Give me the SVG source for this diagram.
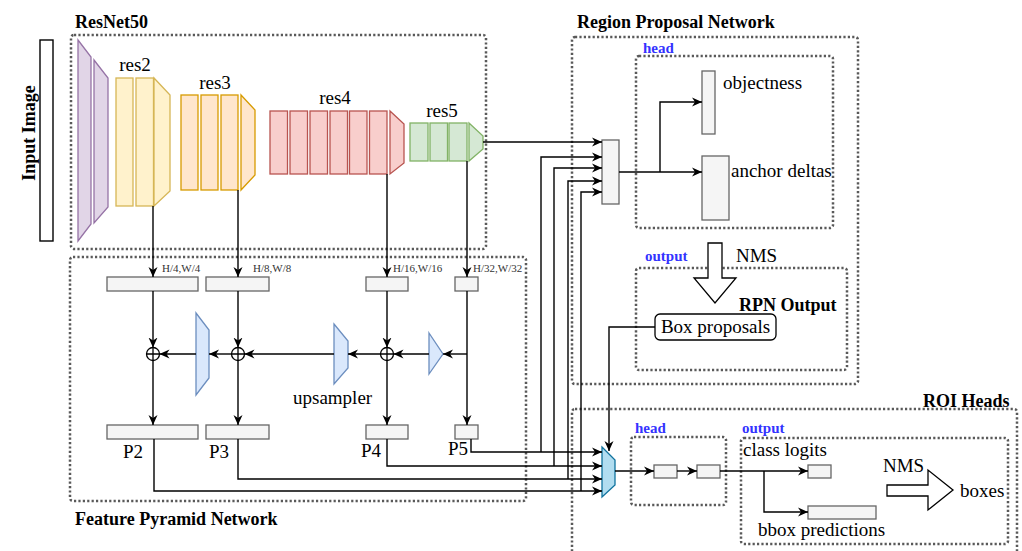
<svg xmlns="http://www.w3.org/2000/svg" width="1022" height="551" viewBox="0 0 1022 551">
<style>
text{font-family:"Liberation Serif","Times New Roman",serif;fill:#000}
.t{font-size:19px}
.b{font-size:18px;font-weight:bold}
.s{font-size:11px;fill:#333}
.blue{font-size:15px;font-weight:bold;fill:#3333ff}
.dot{fill:none;stroke:#595959;stroke-width:2.5;stroke-dasharray:2.2 2.2}
.box{fill:#f5f5f5;stroke:#666;stroke-width:1.3}
.pur{fill:#e1d5e7;stroke:#9673a6;stroke-width:1.3}
.yel{fill:#fff2cc;stroke:#d6b656;stroke-width:1.3}
.ora{fill:#ffe6cc;stroke:#d79b00;stroke-width:1.3}
.red{fill:#f8cecc;stroke:#b85450;stroke-width:1.3}
.grn{fill:#d5e8d4;stroke:#82b366;stroke-width:1.3}
.ups{fill:#dae8fc;stroke:#6c8ebf;stroke-width:1.3}
.c{fill:none;stroke:#000;stroke-width:1.4}
.a{marker-end:url(#arr)}
</style>
<defs>
<marker id="arr" viewBox="0 0 10 10" markerWidth="10" markerHeight="10" refX="10" refY="5" orient="auto" markerUnits="userSpaceOnUse">
<path d="M0,0.5 L10,5 L0,9.5 L3,5 Z" fill="#000"/>
</marker>
</defs>

<!-- containers -->
<g id="resnet50">
<rect class="dot" x="71" y="35" width="415" height="214" rx="3"/>
<text class="b" x="75" y="28">ResNet50</text>
</g>
<g id="fpn">
<rect class="dot" x="70" y="257" width="456" height="244" rx="3"/>
<text class="b" x="75" y="525">Feature Pyramid Network</text>
</g>
<g id="rpn">
<rect class="dot" x="572" y="37" width="286" height="347" rx="3"/>
<text class="b" x="577" y="28">Region Proposal Network</text>
</g>
<g id="rpn-head">
<rect class="dot" x="636" y="56" width="197" height="172" rx="3"/>
<text class="blue" x="643" y="53">head</text>
</g>
<g id="rpn-output">
<rect class="dot" x="636" y="268" width="211" height="102" rx="3"/>
<text class="blue" x="645" y="261">output</text>
<text class="b" x="739" y="311">RPN Output</text>
</g>
<g id="roi">
<rect class="dot" x="572" y="409" width="445" height="160" rx="3"/>
<text class="b" x="923" y="407">ROI Heads</text>
</g>
<g id="roi-head">
<rect class="dot" x="631" y="437" width="95" height="68" rx="3"/>
<text class="blue" x="635" y="433">head</text>
</g>
<g id="roi-output">
<rect class="dot" x="741" y="438" width="267" height="106" rx="3"/>
<text class="blue" x="742" y="433">output</text>
</g>

<!-- input -->
<g id="input-image">
<rect x="40" y="40" width="13" height="201" fill="#fff" stroke="#000" stroke-width="1.4"/>
<text class="b" transform="translate(35,133) rotate(-90)" text-anchor="middle">Input Image</text>
</g>

<!-- stem -->
<g id="stem">
<polygon class="pur" points="78,40 91,57 91,224 78,241"/>
<polygon class="pur" points="94,60 108,78 108,207 94,223"/>
</g>
<g id="res2">
<rect class="yel" x="116" y="78" width="17" height="128"/>
<rect class="yel" x="136" y="78" width="17.5" height="128"/>
<polygon class="yel" points="154,78 170,95 170,191 154,206"/>
<text class="t" x="135" y="71" text-anchor="middle">res2</text>
</g>
<g id="res3">
<rect class="ora" x="181" y="95" width="17" height="95"/>
<rect class="ora" x="201" y="95" width="17" height="95"/>
<rect class="ora" x="221" y="95" width="17" height="95"/>
<polygon class="ora" points="241,95 255,110 255,175 241,190"/>
<text class="t" x="215" y="89" text-anchor="middle">res3</text>
</g>
<g id="res4">
<rect class="red" x="270" y="111" width="17.5" height="63"/>
<rect class="red" x="290" y="111" width="17.5" height="63"/>
<rect class="red" x="310" y="111" width="17.5" height="63"/>
<rect class="red" x="330" y="111" width="17.5" height="63"/>
<rect class="red" x="349.5" y="111" width="17.5" height="63"/>
<rect class="red" x="369.5" y="111" width="17.5" height="63"/>
<polygon class="red" points="390,111 404,124 404,163 390,174"/>
<text class="t" x="335" y="104" text-anchor="middle">res4</text>
</g>
<g id="res5">
<rect class="grn" x="410" y="123" width="18" height="38"/>
<rect class="grn" x="430" y="123" width="17.5" height="38"/>
<rect class="grn" x="449" y="123" width="18" height="38"/>
<polygon class="grn" points="469,123 483,136 483,149 469,161"/>
<text class="t" x="442" y="117" text-anchor="middle">res5</text>
</g>

<!-- FPN nodes -->
<g id="p2-lat"><rect class="box" x="107" y="277" width="91" height="14"/><text class="s" x="162" y="272">H/4,W/4</text></g>
<g id="p3-lat"><rect class="box" x="206" y="277" width="63" height="14"/><text class="s" x="253" y="272">H/8,W/8</text></g>
<g id="p4-lat"><rect class="box" x="366" y="277" width="42" height="14"/><text class="s" x="393" y="272">H/16,W/16</text></g>
<g id="p5-lat"><rect class="box" x="455" y="277" width="23" height="14"/><text class="s" x="473" y="272">H/32,W/32</text></g>

<g id="sum2"><circle cx="153" cy="354" r="6.5" fill="#fff" stroke="#000" stroke-width="1.3"/><path d="M146.5 354H159.5M153 347.5V360.5" stroke="#000" stroke-width="1.3"/></g>
<g id="sum3"><circle cx="238" cy="354" r="6.5" fill="#fff" stroke="#000" stroke-width="1.3"/><path d="M231.5 354H244.5M238 347.5V360.5" stroke="#000" stroke-width="1.3"/></g>
<g id="sum4"><circle cx="387" cy="354" r="6.5" fill="#fff" stroke="#000" stroke-width="1.3"/><path d="M380.5 354H393.5M387 347.5V360.5" stroke="#000" stroke-width="1.3"/></g>

<g id="up1"><polygon class="ups" points="196,313 209,330 209,378 196,395"/></g>
<g id="up2"><polygon class="ups" points="334,324 348,341 348,368 334,384"/><text class="t" x="293" y="404">upsampler</text></g>
<g id="up3"><polygon class="ups" points="429,333 443,354 429,374"/></g>

<g id="p2"><rect class="box" x="107" y="425" width="91" height="14"/><text class="t" x="123" y="458">P2</text></g>
<g id="p3"><rect class="box" x="206" y="425" width="63" height="14"/><text class="t" x="209" y="458">P3</text></g>
<g id="p4"><rect class="box" x="366" y="425" width="42" height="14"/><text class="t" x="361" y="457">P4</text></g>
<g id="p5"><rect class="box" x="455" y="425" width="23" height="14"/><text class="t" x="448" y="455">P5</text></g>

<!-- RPN nodes -->
<g id="rpn-conv"><rect class="box" x="602" y="140" width="17" height="64"/></g>
<g id="objectness"><rect class="box" x="702" y="71" width="13" height="63"/><text class="t" x="723" y="89">objectness</text></g>
<g id="anchor-deltas"><rect class="box" x="702" y="156" width="27" height="64"/><text class="t" x="731" y="177">anchor deltas</text></g>
<g id="nms-rpn">
<polygon points="708,243 722,243 722,278 736,278 715,303 694,278 708,278" fill="#fff" stroke="#000" stroke-width="1.3"/>
<text class="t" x="736" y="262">NMS</text>
</g>
<g id="box-proposals">
<rect x="655" y="314" width="121" height="26" rx="5" fill="#fff" stroke="#000" stroke-width="1.3"/>
<text class="t" x="715.5" y="333" text-anchor="middle">Box proposals</text>
</g>

<!-- ROI nodes -->
<g id="roi-pooler"><polygon points="602,447 615,460 615,485 602,497" fill="#b1ddf0" stroke="#10739e" stroke-width="1.3"/></g>
<g id="roi-fc1"><rect class="box" x="654" y="465" width="23" height="13"/></g>
<g id="roi-fc2"><rect class="box" x="697" y="465" width="23" height="13"/></g>
<g id="class-logits"><rect class="box" x="808" y="465" width="23" height="13"/><text class="t" x="743" y="456">class logits</text></g>
<g id="bbox-pred"><rect class="box" x="808" y="506" width="68" height="13"/><text class="t" x="758" y="536">bbox predictions</text></g>
<g id="nms-roi">
<polygon points="887,485 928,485 928,470 953,490 928,510 928,496 887,496" fill="#fff" stroke="#000" stroke-width="1.3"/>
<text class="t" x="883" y="472">NMS</text>
<text class="t" x="960" y="497">boxes</text>
</g>

<!-- connectors -->
<g id="connectors">
<path class="c a" d="M153 206V277"/>
<path class="c a" d="M238 190V277"/>
<path class="c a" d="M387 174V277"/>
<path class="c a" d="M467 161V277"/>
<path class="c a" d="M153 291V347.5"/>
<path class="c a" d="M238 291V347.5"/>
<path class="c a" d="M387 291V347.5"/>
<path class="c a" d="M153 360.5V425"/>
<path class="c a" d="M238 360.5V425"/>
<path class="c a" d="M387 360.5V425"/>
<path class="c a" d="M467 291V425"/>
<path class="c a" d="M467 354H443"/>
<path class="c a" d="M429 354H393.5"/>
<path class="c a" d="M380.5 354H348"/>
<path class="c a" d="M334 354H244.5"/>
<path class="c a" d="M231.5 354H209"/>
<path class="c a" d="M196 354H159.5"/>
<path class="c a" d="M483 142H602"/>
<path class="c a" d="M471 439V452H602"/>
<path class="c a" d="M541 452V157H602"/>
<path class="c a" d="M387 439V466H602"/>
<path class="c a" d="M554 466V168H602"/>
<path class="c a" d="M238 439V479H602"/>
<path class="c a" d="M568 479V181H602"/>
<path class="c a" d="M154 439V491H602"/>
<path class="c a" d="M581 491V192H602"/>
<path class="c a" d="M619 172H702"/>
<path class="c a" d="M660 172V102H702"/>
<path class="c a" d="M655 327H609V451"/>
<path class="c a" d="M615 471H654"/>
<path class="c a" d="M677 471H697"/>
<path class="c a" d="M720 471H808"/>
<path class="c a" d="M764 471V512H808"/>
</g>
</svg>
